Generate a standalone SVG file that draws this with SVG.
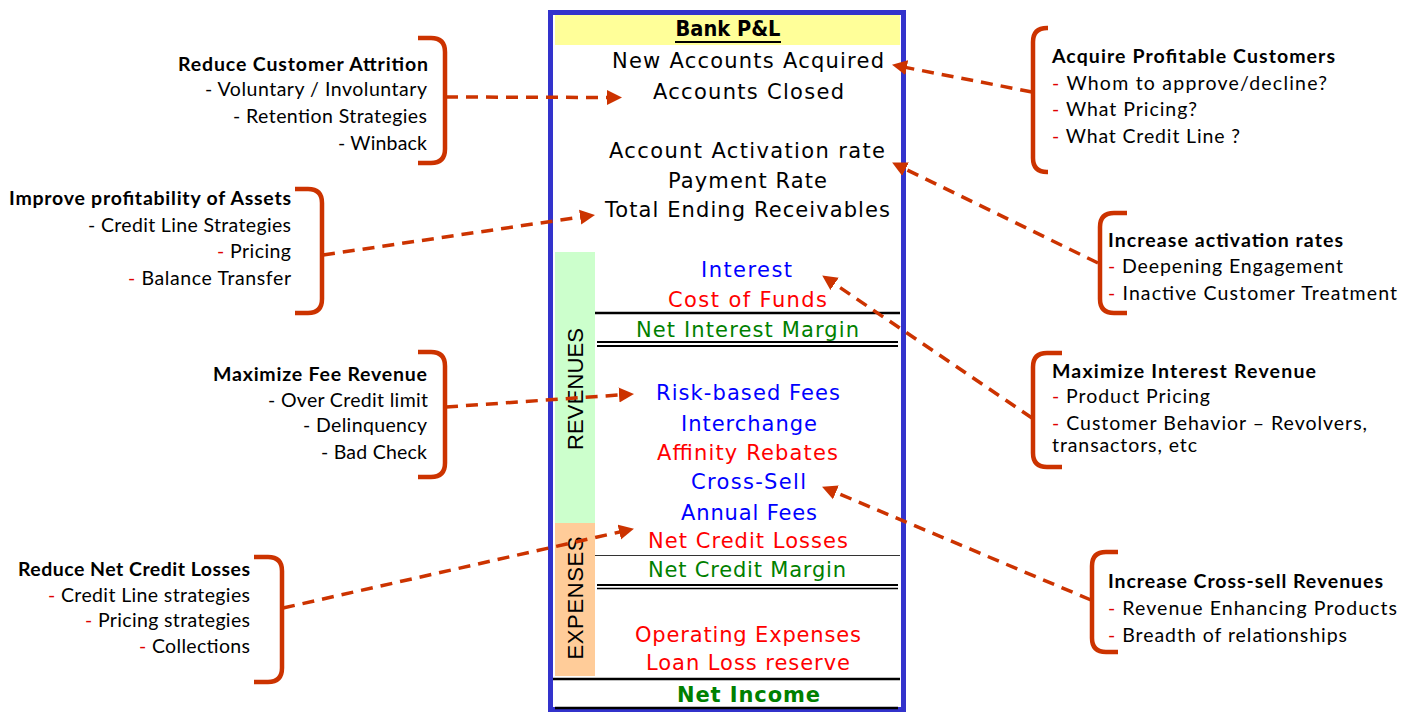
<svg xmlns="http://www.w3.org/2000/svg" width="1411" height="713" viewBox="0 0 1411 713">
<defs>
<style>
.c{font-family:"DejaVu Sans","Verdana",sans-serif;font-size:21px;text-anchor:middle}
.blk{fill:#000}
.blu{fill:#0000FF}
.red{fill:#FF0000}
.grn{fill:#008000}
.side{font-family:"Lato","Carlito","Liberation Sans",sans-serif;font-size:19.5px;fill:#000}
.ttl{font-weight:bold}
.e{text-anchor:end}
.d{fill:#E00000}
.br{fill:none;stroke:#CC3300;stroke-width:4.5;stroke-linecap:butt}
.cn{fill:none;stroke:#CC3300;stroke-width:3.5;stroke-dasharray:12 8}
.vl{font-family:"Liberation Sans","Arial",sans-serif;font-size:22px;fill:#000;text-anchor:middle}
</style>
<marker id="ah" markerUnits="userSpaceOnUse" markerWidth="16" markerHeight="16" refX="4" refY="7.5" orient="auto" viewBox="0 0 16 15">
<path d="M0 0 L15 7.5 L0 15 z" fill="#CC3300"/>
</marker>
</defs>
<rect width="1411" height="713" fill="#fff"/>

<g id="pnl">
<rect x="550.5" y="12.5" width="353" height="697" fill="#fff" stroke="#3333CC" stroke-width="5"/>
<rect x="555" y="15" width="345" height="30" fill="#FFFF99"/>
<rect x="555" y="252" width="40" height="271" fill="#CCFFCC"/>
<rect x="555" y="523" width="40" height="153" fill="#FFCC99"/>
<text class="c blk" x="728" y="36" font-weight="bold" textLength="105" lengthAdjust="spacingAndGlyphs">Bank P&amp;L</text>
<line x1="675" y1="42" x2="781" y2="42" stroke="#000" stroke-width="2"/>
<text class="c blk" x="748" y="68" textLength="272">New Accounts Acquired</text>
<text class="c blk" x="748.5" y="99" textLength="191">Accounts Closed</text>
<text class="c blk" x="747" y="158" textLength="276">Account Activation rate</text>
<text class="c blk" x="747.5" y="188" textLength="159">Payment Rate</text>
<text class="c blk" x="747.5" y="217" textLength="285">Total Ending Receivables</text>
<text class="c blu" x="746.5" y="277" textLength="91">Interest</text>
<text class="c red" x="747.5" y="307" textLength="159">Cost of Funds</text>
<line x1="595" y1="313" x2="900" y2="313" stroke="#000" stroke-width="2.5"/>
<text class="c grn" x="747.5" y="337" textLength="223">Net Interest Margin</text>
<line x1="597" y1="342" x2="898" y2="342" stroke="#000" stroke-width="2"/>
<line x1="597" y1="346" x2="898" y2="346" stroke="#000" stroke-width="2"/>
<text class="c blu" x="748" y="400" textLength="184">Risk-based Fees</text>
<text class="c blu" x="749" y="431" textLength="136">Interchange</text>
<text class="c red" x="747.5" y="460" textLength="181">Affinity Rebates</text>
<text class="c blu" x="748.5" y="489" textLength="115">Cross-Sell</text>
<text class="c blu" x="749" y="520" textLength="136">Annual Fees</text>
<text class="c red" x="748" y="548" textLength="200">Net Credit Losses</text>
<line x1="595" y1="555.5" x2="900" y2="555.5" stroke="#333" stroke-width="1"/>
<text class="c grn" x="747" y="577" textLength="198">Net Credit Margin</text>
<line x1="597" y1="585" x2="898" y2="585" stroke="#000" stroke-width="2"/>
<line x1="597" y1="588.5" x2="898" y2="588.5" stroke="#000" stroke-width="1.5"/>
<text class="c red" x="748" y="642" textLength="226">Operating Expenses</text>
<text class="c red" x="748" y="670" textLength="204">Loan Loss reserve</text>
<line x1="553" y1="679" x2="900" y2="679" stroke="#000" stroke-width="2.5"/>
<text class="c grn" x="748.5" y="702" font-weight="bold" textLength="143">Net Income</text>
<line x1="555" y1="708" x2="898" y2="708" stroke="#000" stroke-width="2.5"/>
<text class="vl" transform="translate(583 389) rotate(-90)" textLength="122">REVENUES</text>
<text class="vl" transform="translate(583 598) rotate(-90)" textLength="123">EXPENSES</text>
</g>

<g id="attrition">
<path class="br" d="M418 38 L431 38 Q445 38 445 52 L445 149 Q445 163 431 163 L418 163"/>
<text class="side ttl e" x="428" y="71" textLength="250">Reduce Customer Attrition</text>
<text class="side e" x="427" y="96" textLength="222">- Voluntary / Involuntary</text>
<text class="side e" x="427" y="123" textLength="194">- Retention Strategies</text>
<text class="side e" x="427" y="150" textLength="89">- Winback</text>
</g>

<g id="assets">
<path class="br" d="M295 189 L308 189 Q322 189 322 203 L322 299 Q322 313 308 313 L295 313"/>
<text class="side ttl e" x="291" y="205" textLength="282">Improve profitability of Assets</text>
<text class="side e" x="291" y="232" textLength="203">- Credit Line Strategies</text>
<text class="side e" x="291" y="258" textLength="74"><tspan class="d">-</tspan> Pricing</text>
<text class="side e" x="291" y="285" textLength="163"><tspan class="d">-</tspan> Balance Transfer</text>
</g>

<g id="fees">
<path class="br" d="M418 352 L431 352 Q445 352 445 366 L445 463 Q445 477 431 477 L418 477"/>
<text class="side ttl e" x="427" y="381" textLength="214">Maximize  Fee Revenue</text>
<text class="side e" x="428" y="407" textLength="160">- Over Credit limit</text>
<text class="side e" x="427" y="432" textLength="124">- Delinquency</text>
<text class="side e" x="427" y="459" textLength="106">- Bad  Check</text>
</g>

<g id="losses">
<path class="br" d="M254 557 L268 557 Q282 557 282 571 L282 668 Q282 682 268 682 L254 682"/>
<text class="side ttl e" x="250" y="576" textLength="232">Reduce  Net Credit Losses</text>
<text class="side e" x="250" y="602" textLength="202"><tspan class="d">-</tspan> Credit Line strategies</text>
<text class="side e" x="250" y="627" textLength="165"><tspan class="d">-</tspan> Pricing strategies</text>
<text class="side e" x="250" y="653" textLength="111"><tspan class="d">-</tspan> Collections</text>
</g>

<g id="acquire">
<path class="br" d="M1048 28 L1047 28 Q1033 28 1033 42 L1033 158 Q1033 172 1047 172 L1048 172"/>
<text class="side ttl" x="1052" y="63" textLength="283">Acquire Profitable  Customers</text>
<text class="side" x="1052" y="90" textLength="275"><tspan class="d">-</tspan> Whom to approve/decline?</text>
<text class="side" x="1052" y="116" textLength="145"><tspan class="d">-</tspan> What Pricing?</text>
<text class="side" x="1052" y="143" textLength="188"><tspan class="d">-</tspan> What Credit Line ?</text>
</g>

<g id="activation">
<path class="br" d="M1127 213 L1114 213 Q1100 213 1100 227 L1100 299 Q1100 313 1114 313 L1127 313"/>
<text class="side ttl" x="1108" y="247" textLength="235">Increase activation  rates</text>
<text class="side" x="1108" y="273" textLength="235"><tspan class="d">-</tspan> Deepening Engagement</text>
<text class="side" x="1108" y="300" textLength="289"><tspan class="d">-</tspan> Inactive Customer  Treatment</text>
</g>

<g id="interest">
<path class="br" d="M1062 353 L1047 353 Q1033 353 1033 367 L1033 453 Q1033 467 1047 467 L1062 467"/>
<text class="side ttl" x="1052" y="378" textLength="264">Maximize  Interest Revenue</text>
<text class="side" x="1052" y="403" textLength="158"><tspan class="d">-</tspan> Product Pricing</text>
<text class="side" x="1052" y="430" textLength="315"><tspan class="d">-</tspan> Customer  Behavior – Revolvers,</text>
<text class="side" x="1052" y="452" textLength="145">transactors, etc</text>
</g>

<g id="crosssell">
<path class="br" d="M1118 552 L1106 552 Q1092 552 1092 566 L1092 638 Q1092 652 1106 652 L1118 652"/>
<text class="side ttl" x="1108" y="588" textLength="275">Increase Cross-sell  Revenues</text>
<text class="side" x="1108" y="615" textLength="289"><tspan class="d">-</tspan> Revenue Enhancing Products</text>
<text class="side" x="1108" y="642" textLength="239"><tspan class="d">-</tspan> Breadth of relationships</text>
</g>

<g id="connectors">
<path class="cn" d="M446 97 L611 97.5" marker-end="url(#ah)"/>
<path class="cn" d="M323 255 L584.1 216.5" marker-end="url(#ah)"/>
<path class="cn" d="M446 407 L623 394.7" marker-end="url(#ah)"/>
<path class="cn" d="M283 608 L623.2 531.2" marker-end="url(#ah)"/>
<path class="cn" d="M1032 92 L902.8 66.9" marker-end="url(#ah)"/>
<path class="cn" d="M1098 263 L902 167.4" marker-end="url(#ah)"/>
<path class="cn" d="M1032 418 L831.3 281.6" marker-end="url(#ah)"/>
<path class="cn" d="M1091 600 L832.2 490.9" marker-end="url(#ah)"/>
</g>
</svg>
